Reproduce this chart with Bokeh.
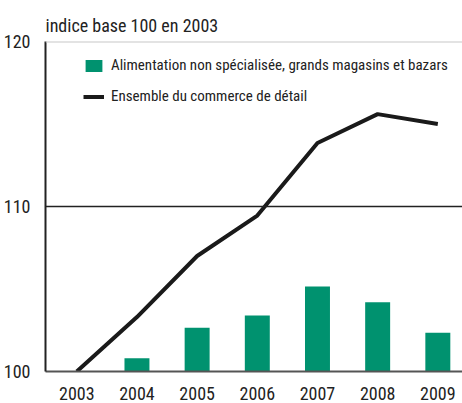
from bokeh.plotting import figure
from bokeh.models import Span, Legend, LegendItem, FixedTicker, Range1d
from bokeh.embed import file_html
from bokeh.resources import INLINE

years = [2003, 2004, 2005, 2006, 2007, 2008, 2009]
bar_years = [2004, 2005, 2006, 2007, 2008, 2009]
alimentation = [100.8, 102.65, 103.4, 105.15, 104.2, 102.35]
ensemble = [100.0, 103.3, 107.0, 109.45, 113.85, 115.6, 115.0]
y_ticks = [100, 110, 120]

FONT = "Roboto Condensed"
GREEN = "#00926f"
TXT = "#222222"

p = figure(frame_width=417, frame_height=330, output_backend="svg", toolbar_location=None,
           x_range=Range1d(2002.48, 2009.41), y_range=Range1d(100, 120),
           title="indice base 100 en 2003")
p.min_border_left = 37
p.min_border_right = 0
p.min_border_top = 41
p.min_border_bottom = 31
p.outline_line_color = None
p.xgrid.grid_line_color = None
p.ygrid.grid_line_color = None

p.title.align = "left"
p.title.offset = 0
p.title.standoff = 12
p.title.text_font = FONT
p.title.text_font_style = "normal"
p.title.text_font_size = "18px"
p.title.text_color = TXT

r_bar = p.vbar(x=bar_years, top=alimentation, bottom=100, width=0.415,
               fill_color=GREEN, line_color=None)
r_line = p.line(x=years, y=ensemble, line_color="#1a1a1a", line_width=4)

p.add_layout(Span(location=110, dimension="width", line_color=TXT, line_width=1.5))
p.add_layout(Span(location=120, dimension="width", line_color="#c8c8c8", line_width=2))

p.xaxis.ticker = FixedTicker(ticks=years)
p.xaxis.major_tick_line_color = None
p.xaxis.minor_tick_line_color = None
p.xaxis.axis_line_color = "#555555"
p.xaxis.axis_line_width = 2
p.xaxis.major_label_standoff = 9
p.xaxis.major_label_text_font = FONT
p.xaxis.major_label_text_font_size = "18px"
p.xaxis.major_label_text_color = TXT

p.yaxis.ticker = FixedTicker(ticks=y_ticks)
p.yaxis.major_tick_line_color = None
p.yaxis.minor_tick_line_color = None
p.yaxis.axis_line_color = TXT
p.yaxis.axis_line_width = 2
p.yaxis.major_label_standoff = 9
p.yaxis.major_label_text_font = FONT
p.yaxis.major_label_text_font_size = "18px"
p.yaxis.major_label_text_color = TXT

legend = Legend(items=[
    LegendItem(label="Alimentation non spécialisée, grands magasins et bazars", renderers=[r_bar]),
    LegendItem(label="Ensemble du commerce de détail", renderers=[r_line]),
], location=(38, 266))
legend.padding = 0
legend.margin = 0
legend.spacing = 13
legend.glyph_width = 21
legend.glyph_height = 15
legend.label_height = 15
legend.label_standoff = 7
legend.border_line_color = None
legend.background_fill_alpha = 0
legend.label_text_font = FONT
legend.label_text_font_size = "15px"
legend.label_text_color = TXT
p.add_layout(legend, "center")

open("out.html", "w").write(file_html(p, INLINE))
